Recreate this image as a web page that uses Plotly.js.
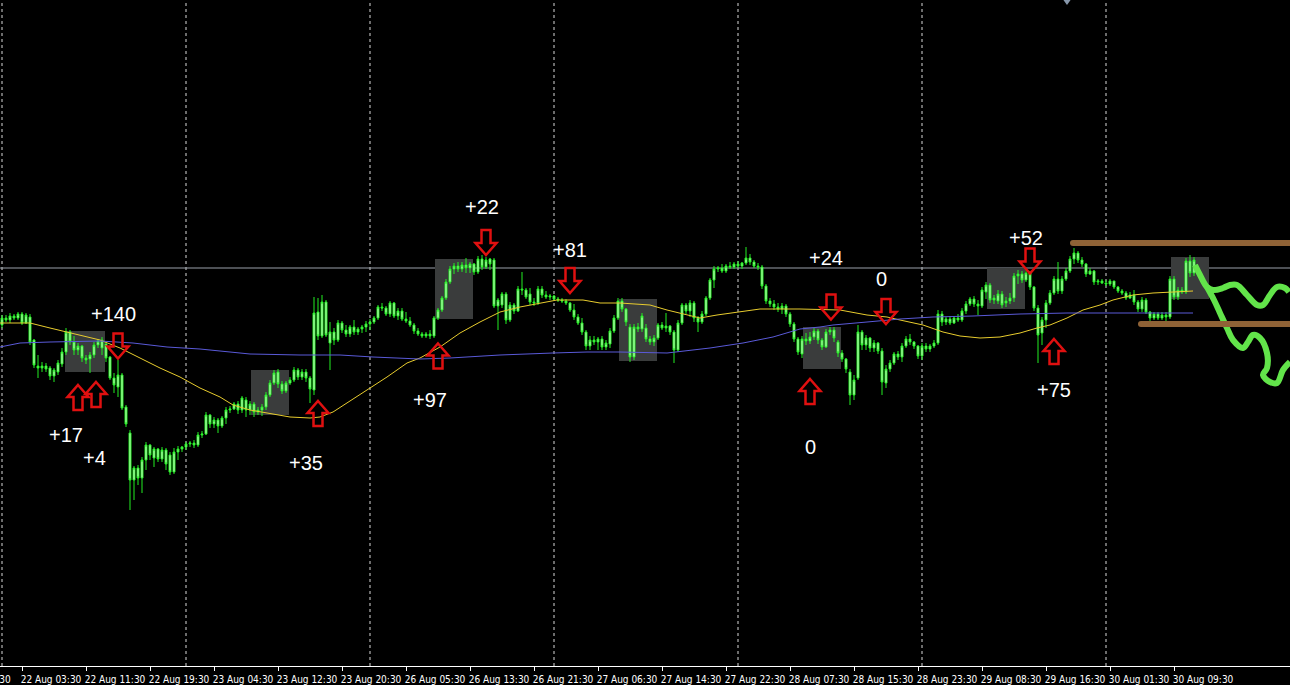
<!DOCTYPE html>
<html><head><meta charset="utf-8">
<script src="https://cdn.plot.ly/plotly-3.0.1.min.js"></script>
<style>html,body{margin:0;padding:0;background:#000;}#chart{width:1290px;height:685px;}</style>
</head><body><div id="chart"></div>
<script>
// M30 bars, index 0 = 22 Aug 01:00 (46 bars per trading day, 01:00-24:00)
const open = [675,682,680,684,682,686,677,683,660,634,632,634,632,624,628,636,648,668,658,650,654,642,641,645,655,652,656,643,622,613,625,593,567,520,532,522,540,555,542,551,541,550,545,528,548,551,553,556,557,555,565,566,585,576,580,574,582,590,591,596,590,600,590,596,588,590,593,605,617,628,616,609,617,620,630,623,628,622,610,688,664,698,657,668,660,677,670,666,673,668,671,673,676,678,682,693,692,686,697,684,689,681,679,675,669,666,664,666,664,682,690,702,718,731,734,731,735,732,736,728,741,733,741,740,694,695,706,680,695,689,711,710,706,698,697,711,705,703,704,701,700,699,697,690,683,677,668,654,660,658,661,653,656,669,682,699,691,673,643,673,671,672,661,658,662,675,672,674,668,650,677,695,689,697,682,678,686,702,720,731,732,729,734,733,736,734,737,742,738,734,733,714,699,696,693,691,694,686,676,661,646,661,659,663,669,660,653,668,670,658,647,641,628,605,622,668,655,662,652,657,649,617,631,637,646,643,654,661,658,654,644,654,651,654,657,686,678,681,677,682,680,689,696,701,696,694,708,715,700,699,706,697,699,702,724,726,720,727,713,692,667,680,697,707,721,709,721,729,741,747,740,736,726,729,718,719,717,716,719,713,709,707,702,705,698,691,700,688,682,686,682,685,683,721,703,710,708,739,727];
const high = [685,685,687,686,688,688,687,686,661,645,638,637,634,632,640,652,672,670,664,657,655,645,648,658,661,663,658,644,627,640,627,595,570,534,535,543,558,556,553,552,553,552,548,552,554,554,558,559,560,568,569,588,586,583,582,584,593,594,598,599,604,603,599,598,593,596,608,620,630,631,619,619,623,633,632,631,631,624,703,702,705,700,678,672,680,679,675,675,680,673,675,679,681,684,695,697,694,699,698,692,692,688,683,677,672,668,668,670,684,692,704,721,734,737,738,738,742,738,737,744,745,743,742,742,702,708,708,698,697,714,728,712,712,702,714,714,709,706,705,703,702,701,698,696,686,682,670,664,664,663,664,660,672,685,702,702,692,676,676,677,687,676,664,665,677,678,687,675,670,680,697,697,700,699,684,689,704,722,734,734,736,736,738,738,739,738,753,746,740,737,735,716,702,700,697,697,696,688,678,663,664,667,668,672,671,662,671,673,673,660,650,642,631,625,675,670,665,663,660,658,652,635,640,648,649,657,664,666,659,655,657,657,656,660,690,689,683,684,684,686,692,699,703,704,700,713,718,717,705,710,709,703,707,727,730,729,730,729,714,695,683,700,710,724,738,724,732,744,752,749,743,737,732,730,721,721,720,721,719,714,711,709,708,710,700,703,702,689,688,688,688,688,724,724,713,713,742,745,743];
const low = [672,678,677,680,680,675,676,655,632,622,628,628,620,618,625,633,645,655,645,645,638,636,627,642,652,645,638,620,607,603,590,573,490,500,515,507,530,540,533,538,538,530,525,526,540,548,550,553,552,553,562,565,572,572,567,572,576,587,590,586,587,583,585,583,585,584,590,603,615,612,606,607,615,618,620,620,618,597,605,660,662,663,630,655,658,667,663,663,665,665,667,668,670,676,680,689,684,683,682,680,679,677,673,666,664,662,662,661,662,680,688,700,716,726,728,728,727,727,725,726,730,731,730,692,670,692,676,678,686,688,705,701,695,694,695,702,701,700,699,698,697,695,688,680,675,665,650,650,655,650,650,650,652,667,680,688,674,638,640,668,668,658,655,654,660,670,668,665,637,648,675,686,683,678,668,676,684,700,712,728,727,727,731,731,732,731,735,735,732,730,711,696,693,690,688,686,683,673,658,645,642,655,656,660,656,650,652,665,658,643,638,627,595,600,620,650,650,648,648,646,605,612,628,635,640,638,652,655,651,641,640,648,648,652,655,674,675,675,676,678,678,686,694,693,685,692,701,697,696,696,692,693,696,698,716,717,718,710,689,637,655,672,695,705,706,706,719,727,736,737,733,723,725,715,715,716,714,714,711,707,705,700,701,695,688,688,686,679,680,680,680,679,681,700,700,706,706,723,724];
const close = [682,680,684,682,686,677,685,658,635,632,634,631,624,630,637,648,668,658,650,654,642,640,645,655,659,660,642,622,615,625,592,576,520,532,522,540,555,545,551,541,550,536,528,548,551,553,556,557,555,565,566,585,576,580,574,582,590,591,596,590,602,590,596,588,590,593,605,617,627,616,609,617,620,630,623,628,622,611,687,664,698,665,668,660,677,670,666,673,668,671,673,676,678,682,693,692,686,697,684,689,681,679,675,669,666,664,666,664,682,690,702,718,731,734,731,735,732,736,728,741,733,740,736,694,700,706,680,695,689,711,710,703,698,697,711,705,703,704,701,700,699,697,690,683,677,668,654,660,658,661,653,657,669,682,699,691,678,643,673,671,684,661,658,662,675,672,674,668,650,677,695,689,697,682,678,686,702,720,731,732,729,734,733,736,734,737,742,738,734,733,714,699,696,693,691,694,686,676,661,648,661,659,663,669,660,653,668,670,662,647,641,631,605,620,668,655,662,652,657,649,618,631,637,646,643,654,661,658,654,644,654,651,654,657,686,678,681,677,682,680,689,696,701,696,694,710,715,700,702,706,695,699,702,724,726,720,727,713,692,665,680,697,707,721,709,721,729,741,747,740,736,726,729,718,719,717,716,719,713,709,707,702,705,698,691,700,688,682,686,682,685,683,721,703,710,708,739,727,740];
const barIndex = open.map((_, i) => i);

// moving averages (bar index, level)
const yellowMaX = [-0.5,7,12,16.25,22,24.5,29.5,34.5,39.5,44.5,49.5,54.5,57.75,62,66.25,72,77,79.5,82.75,86.25,91.25,96.25,101.25,104.5,109.5,114.5,119.5,124.5,129.5,134.5,138.75,145.25,149.5,154.5,162,166.25,171.25,174.5,178.75,184.5,189.5,199.5,209.5,216.25,221.25,224.5,230.25,235.25,239.5,244.5,249.5,254.5,258.75,262,266.25,270.25,274.5,277.75,282.75,287.75,292.75,297.75];
const yellowMaY = [677,677,672,668,662,660,652,642,632,623,612,603,595,590,587,583,582,583,588,597,610,623,637,642,653,667,678,688,693,697,700,700,697,697,695,690,685,682,685,688,691,691,690,685,683,680,675,668,664,662,663,667,672,675,682,690,695,700,705,707,708,709];
const blueMaX = [-0.5,4.5,12,24.5,32.75,41.25,49.5,54.5,62,74.5,84.5,92.75,104.5,112,124.5,137.75,146.25,154.5,166.25,177,185.25,192.75,199.5,204.5,207.75,216.25,224.5,232.75,242.75,254.5,266.25,282.75,297.75];
const blueMaY = [653,657,658,659,657,653,651,649,646,645,645,643,641,642,645,647,648,648,647,652,657,663,671,673,675,678,681,683,684,686,687,687,687];

// axis ticks
const tickVals = [5,21,37,53,69,85,101,117,133,149,165,181,197,213,229,245,261,277,293];
const tickText = ['22 Aug 03:30','22 Aug 11:30','22 Aug 19:30','23 Aug 04:30','23 Aug 12:30','23 Aug 20:30','26 Aug 05:30','26 Aug 13:30','26 Aug 21:30','27 Aug 06:30','27 Aug 14:30','27 Aug 22:30','28 Aug 07:30','28 Aug 15:30','28 Aug 23:30','29 Aug 08:30','29 Aug 16:30','30 Aug 01:30','30 Aug 09:30'];
const firstLabel = '21 Aug 18:30';
const daySeparators = [0,46,92,138,184,230,276];

// horizontal level and trend lines
const levelLine = 732;
const trendTopStart = 267.75, trendTopLevel = 757;
const trendBottomStart = 284.75, trendBottomLevel = 676;

// session boxes
const boxStart = [15.75,62.25,108.25,154.25,200.25,246.25,292.25];
const boxEnd   = [25.75,71.75,117.75,163.75,209.75,255.75,301.75];
const boxLow   = [628,585,681,639,631,691,701];
const boxHigh  = [669,630,741,701,673,732,743];

// signal arrows
const upArrowX = [19,23.5,79,109,202,263];
const upArrowY = [602.5,605.5,586.5,644,608.5,648.5];
const downArrowX = [29,121,142,207.25,221,257];
const downArrowY = [654,757.5,719.5,693,688.5,739];

// result labels
const labelText = ['+140','+17','+4','+35','+97','+22','+81','+24','0','0','+52','+75'];
const labelX = [27.75,16,23,76,107,120,142,206,219.75,202,256,263];
const labelY = [686,565,542,537,600,793,750,742,721,553,762,610];

// hand-drawn forecast paths
const pathUpperX = [298.25,299.5,301.25,302.75,305.25,307,308.75,311.25,313.75,315.25,317,318.75,320.75,321.75];
const pathUpperY = [735,725,713,710,712,715,715,705,695,695,705,713,712,708];
const pathLowerX = [301.25,303,304.5,306.25,307.75,310.25,311.5,312.75,314.5,316.25,316.25,315.25,317,318.75,320.25,322];
const pathLowerY = [713,700,687,672,660,652,658,665,662,647,632,625,618,617,630,638];

const traces = [
  {type:'scatter', mode:'lines', x:yellowMaX, y:yellowMaY, line:{color:'#e8cc2e', width:1}, hoverinfo:'skip'},
  {type:'scatter', mode:'lines', x:blueMaX, y:blueMaY, line:{color:'#5a5ad8', width:1}, hoverinfo:'skip'},
  {type:'candlestick', x:barIndex, open:open, high:high, low:low, close:close,
   increasing:{line:{color:'#22ee22', width:1}, fillcolor:'#e6ffe0'},
   decreasing:{line:{color:'#22ee22', width:1}, fillcolor:'#d8ffd0'},
   whiskerwidth:0, hoverinfo:'skip'},
  {type:'scatter', mode:'lines', x:pathUpperX, y:pathUpperY, line:{color:'#62e44a', width:6, shape:'spline', smoothing:1}, hoverinfo:'skip'},
  {type:'scatter', mode:'lines', x:pathLowerX, y:pathLowerY, line:{color:'#62e44a', width:6, shape:'spline', smoothing:1}, hoverinfo:'skip'}
];

const shapes = [];
daySeparators.forEach(d => shapes.push({type:'line', xref:'x', yref:'paper', x0:d, x1:d, y0:0, y1:1, layer:'below', line:{color:'#d8d8d8', width:1, dash:'3px,3px'}}));
for (let k = 0; k < boxStart.length; k++) {
  shapes.push({type:'rect', xref:'x', yref:'y', x0:boxStart[k], x1:boxEnd[k], y0:boxLow[k], y1:boxHigh[k], layer:'below', fillcolor:'#3a3c3c', line:{width:0}});
}
shapes.push({type:'line', xref:'paper', yref:'y', x0:0, x1:1, y0:levelLine, y1:levelLine, layer:'below', line:{color:'#9aa0aa', width:1}});
const brown = '#8f6236';
[[trendTopStart, trendTopLevel], [trendBottomStart, trendBottomLevel]].forEach(([x0, lv]) => {
  shapes.push({type:'line', xref:'x', yref:'y', x0:x0, x1:330, y0:lv, y1:lv, line:{color:brown, width:6}});
  shapes.push({type:'circle', xref:'x', yref:'y', xsizemode:'pixel', ysizemode:'pixel', xanchor:x0, yanchor:lv, x0:-3, x1:3, y0:-3, y1:3, fillcolor:brown, line:{width:0}});
});
const upPath = 'M0,12.5L10.5,0.5L4.5,0.5L4.5,-12.5L-4.5,-12.5L-4.5,0.5L-10.5,0.5Z';
const downPath = 'M0,-12.5L10.5,-0.5L4.5,-0.5L4.5,12.5L-4.5,12.5L-4.5,-0.5L-10.5,-0.5Z';
upArrowX.forEach((x, k) => shapes.push({type:'path', xref:'x', yref:'y', xsizemode:'pixel', ysizemode:'pixel', xanchor:x, yanchor:upArrowY[k], path:upPath, line:{color:'#e01010', width:2.5}, fillcolor:'rgba(0,0,0,0)'}));
downArrowX.forEach((x, k) => shapes.push({type:'path', xref:'x', yref:'y', xsizemode:'pixel', ysizemode:'pixel', xanchor:x, yanchor:downArrowY[k], path:downPath, line:{color:'#e01010', width:2.5}, fillcolor:'rgba(0,0,0,0)'}));
shapes.push({type:'path', xref:'x', yref:'paper', xsizemode:'pixel', ysizemode:'pixel', xanchor:266.25, yanchor:1, path:'M-5,2L0,-5L5,2Z', fillcolor:'#8797ab', line:{width:0}});

const annotations = labelText.map((t, k) => ({x:labelX[k], y:labelY[k], xref:'x', yref:'y', text:t, showarrow:false, font:{family:'Liberation Sans, Arial, sans-serif', size:20, color:'#ffffff'}}));
annotations.push({x:0, y:0, xref:'paper', yref:'paper', xanchor:'right', yanchor:'top', xshift:13, yshift:-6, text:firstLabel, showarrow:false, font:{family:'Liberation Sans Narrow, DejaVu Sans Condensed, Liberation Sans, sans-serif', size:10, color:'#ffffff'}});

const layout = {
  width:1290, height:685,
  margin:{l:0, r:0, t:0, b:19},
  paper_bgcolor:'#000000', plot_bgcolor:'#000000',
  showlegend:false,
  xaxis:{type:'linear', range:[-0.5,322], showgrid:false, zeroline:false, tickvals:tickVals, ticktext:tickText, tickangle:0,
         ticks:'outside', ticklen:4, tickcolor:'#ffffff', showline:true, linecolor:'#ffffff', linewidth:1,
         tickfont:{family:'Liberation Sans Narrow, DejaVu Sans Condensed, Liberation Sans, sans-serif', size:10, color:'#ffffff'},
         ticklabelshift:29, ticklabelstandoff:0, rangeslider:{visible:false}, fixedrange:true},
  yaxis:{range:[334,1000], visible:false, showgrid:false, zeroline:false, fixedrange:true},
  shapes:shapes, annotations:annotations
};
Plotly.newPlot('chart', traces, layout, {staticPlot:true, displayModeBar:false});
</script></body></html>
